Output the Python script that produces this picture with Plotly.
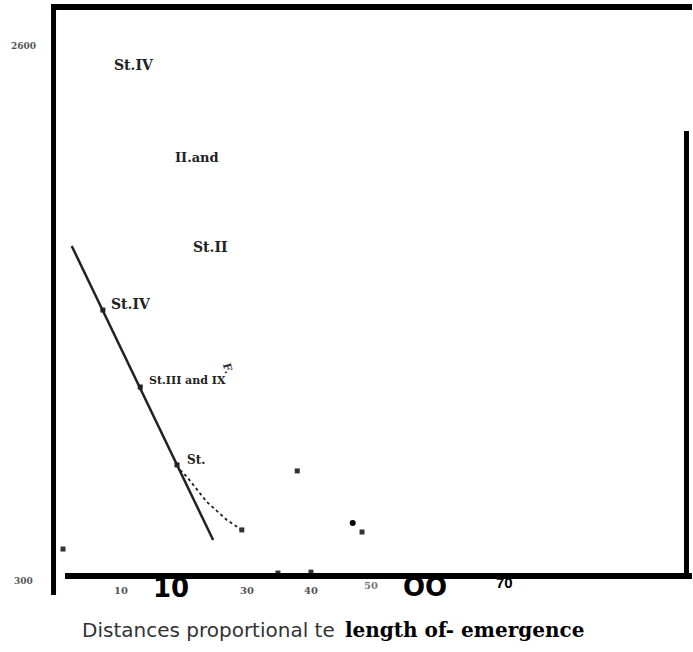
import plotly.graph_objects as go

# ---- data ----
line_x = [1.4, 24.1]
line_y = [1732, 456]

station_x = [6.4, 12.4, 18.3]
station_y = [1454, 1120, 782]

curve_x = [18.8, 19.9, 23.1, 26.3, 28.7]
curve_y = [760, 730, 621, 543, 500]

dot_x = [0, 37.6, 48.0, 34.5, 39.8]
dot_y = [417, 756, 491, 313, 317]
round_x = [46.5]
round_y = [530]

top_labels = ["St.IV", "II.and", "St.II"]
top_label_x = [11.4, 21.5, 23.6]
top_label_y = [2517, 2114, 1728]

station_labels = ["St.IV", "St.III and IX", "St."]
station_label_x = [7.4, 13.5, 19.6]
station_label_y = [1480, 1150, 803]

side_note = "F."
side_note_x = 26.4
side_note_y = 1200

ytick_vals = [2600, 300]
ytick_text = ["2600", "300"]

xtick_vals = [9.3, 17.3, 29.5, 39.8, 49.4, 58.1, 70.8]
xtick_text = ["10", "10", "30", "40", "50", "OO", "70"]

# ---- styles ----
top_label_sizes = [14, 13, 14]
station_label_sizes = [14, 11, 12]

xtick_styles = [
    dict(size=10, family="DejaVu Serif", color="#555", weight="bold", dy=-0.025),
    dict(size=26, family="DejaVu Sans", color="#000", weight="bold", dy=-0.021),
    dict(size=10, family="DejaVu Serif", color="#555", weight="bold", dy=-0.025),
    dict(size=10, family="DejaVu Serif", color="#555", weight="bold", dy=-0.025),
    dict(size=10, family="DejaVu Serif", color="#777", weight="bold", dy=-0.017),
    dict(size=26, family="DejaVu Sans", color="#000", weight="bold", dy=-0.020),
    dict(size=15, family="Liberation Sans", color="#000", weight="bold", dy=-0.012),
]

fig = go.Figure()

fig.add_trace(go.Scatter(x=line_x, y=line_y, mode="lines",
                         line=dict(color="#222", width=2.5), cliponaxis=False))
fig.add_trace(go.Scatter(x=station_x, y=station_y, mode="markers",
                         marker=dict(symbol="square", size=5, color="#222"), cliponaxis=False))
fig.add_trace(go.Scatter(x=curve_x, y=curve_y, mode="lines",
                         line=dict(color="#222", width=1.8, dash="dot"), cliponaxis=False))
fig.add_trace(go.Scatter(x=curve_x[-1:], y=curve_y[-1:], mode="markers",
                         marker=dict(symbol="square", size=5, color="#333"), cliponaxis=False))
fig.add_trace(go.Scatter(x=dot_x, y=dot_y, mode="markers",
                         marker=dict(symbol="square", size=5, color="#333"), cliponaxis=False))
fig.add_trace(go.Scatter(x=round_x, y=round_y, mode="markers",
                         marker=dict(symbol="circle", size=6, color="#000"), cliponaxis=False))

ann = []
for t, x, y, s in zip(top_labels, top_label_x, top_label_y, top_label_sizes):
    ann.append(dict(x=x, y=y, xref="x", yref="y", text=t, showarrow=False,
                    xanchor="center", yanchor="middle",
                    font=dict(family="DejaVu Serif", size=s, color="#222", weight="bold")))
for t, x, y, s in zip(station_labels, station_label_x, station_label_y, station_label_sizes):
    ann.append(dict(x=x, y=y, xref="x", yref="y", text=t, showarrow=False,
                    xanchor="left", yanchor="middle",
                    font=dict(family="DejaVu Serif", size=s, color="#222", weight="bold")))
ann.append(dict(x=side_note_x, y=side_note_y, xref="x", yref="y", text=side_note, showarrow=False,
                textangle=75, font=dict(family="DejaVu Serif", size=11, color="#333", weight="bold")))

for v, t in zip(ytick_vals, ytick_text):
    ann.append(dict(x=-0.063, y=v, xref="paper", yref="y", text=t, showarrow=False,
                    xanchor="center", yanchor="middle", yshift=(-5 if v == 300 else 0),
                    font=dict(family="DejaVu Serif", size=9, color="#555", weight="bold")))

for v, t, s in zip(xtick_vals, xtick_text, xtick_styles):
    ann.append(dict(x=v, y=s["dy"], xref="x", yref="paper", text=t, showarrow=False,
                    xanchor="center", yanchor="middle",
                    font=dict(family=s["family"], size=s["size"], color=s["color"], weight=s["weight"])))

ann.append(dict(x=(337 - 63) / 623, y=-0.095, xref="paper", yref="paper",
                text="Distances proportional te", showarrow=False,
                xanchor="right", yanchor="middle",
                font=dict(family="DejaVu Sans", size=20, color="#333")))
ann.append(dict(x=(343 - 63) / 623, y=-0.095, xref="paper", yref="paper",
                text="length of- emergence", showarrow=False,
                xanchor="left", yanchor="middle",
                font=dict(family="DejaVu Serif", size=20, color="#000", weight="bold")))

shapes = [
    dict(type="line", xref="paper", yref="paper", x0=-0.0193, x1=1.0096, y0=1.0, y1=1.0,
         line=dict(color="#000", width=6)),
    dict(type="line", xref="paper", yref="paper", x0=-0.0152, x1=-0.0152, y0=1.005, y1=-0.0334,
         line=dict(color="#000", width=5)),
    dict(type="line", xref="paper", yref="paper", x0=0.0032, x1=1.0096, y0=0.0, y1=0.0,
         line=dict(color="#000", width=6)),
    dict(type="line", xref="paper", yref="paper", x0=1.0008, x1=1.0008, y0=0.782, y1=0.0,
         line=dict(color="#000", width=5)),
]

fig.update_layout(
    width=693, height=652,
    margin=dict(l=63, r=7, t=7, b=76),
    paper_bgcolor="white", plot_bgcolor="white",
    showlegend=False,
    xaxis=dict(range=[0, 100], visible=False, fixedrange=True),
    yaxis=dict(range=[300, 2769], visible=False, fixedrange=True),
    annotations=ann, shapes=shapes,
)

fig.write_html("out.html", config={"displayModeBar": False},
               post_script="document.body.style.margin='0';document.body.style.overflow='hidden';")
